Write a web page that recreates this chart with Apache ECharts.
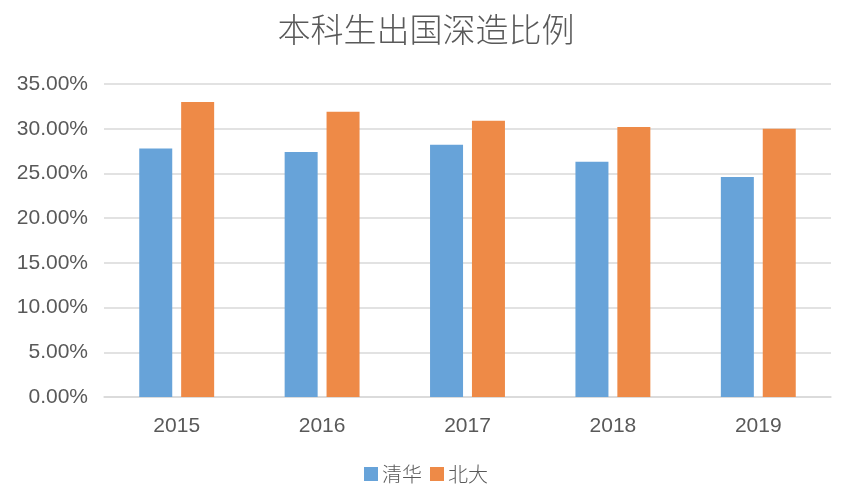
<!DOCTYPE html>
<html><head><meta charset="utf-8">
<script src="https://cdn.jsdelivr.net/npm/echarts@6/dist/echarts.min.js"></script>
<style>html,body{margin:0;padding:0;background:#fff}#c{width:852px;height:502px}</style>
</head><body><div id="c"></div>
<script>
const categories = ['2015', '2016', '2017', '2018', '2019'];
const tsinghua = [27.8, 27.4, 28.2, 26.3, 24.6];
const pku = [33.0, 31.9, 30.9, 30.2, 30.0];
const seriesNames = ['清华', '北大'];

const chart = echarts.init(document.getElementById('c'));
chart.setOption({
  animation: false,
  backgroundColor: '#fff',
  title: {
    text: '本科生出国深造比例', left: 'center', top: 8,
    textStyle: { fontSize: 33, fontWeight: 300, color: '#595959', fontFamily: 'Noto Sans CJK SC' }
  },
  legend: {
    bottom: 13, left: 'center', itemWidth: 14, itemHeight: 14, itemGap: 8,
    icon: 'rect',
    textStyle: { fontSize: 20, fontWeight: 300, color: '#595959', fontFamily: 'Noto Sans CJK SC', padding: [0, 0, 0, -1] },
    data: seriesNames
  },
  grid: { left: 104, right: 21, top: 84, bottom: 105, containLabel: false },
  xAxis: {
    type: 'category', data: categories,
    axisLine: { lineStyle: { color: '#d9d9d9', width: 1.5 } },
    axisTick: { show: false },
    axisLabel: { fontSize: 21, color: '#595959', margin: 19, fontFamily: 'Liberation Sans' }
  },
  yAxis: {
    type: 'value', min: 0, max: 35, interval: 5,
    axisLine: { show: false }, axisTick: { show: false },
    splitLine: { lineStyle: { color: '#d9d9d9', width: 1.5 } },
    axisLabel: { fontSize: 21, color: '#595959', margin: 16, fontFamily: 'Liberation Sans',
      formatter: v => v.toFixed(2) + '%' }
  },
  series: [
    { name: seriesNames[0], type: 'bar', data: tsinghua, barWidth: 33, barGap: '27%',
      itemStyle: { color: '#67a3d9' } },
    { name: seriesNames[1], type: 'bar', data: pku, barWidth: 33,
      itemStyle: { color: '#ee8a47' } }
  ]
});
</script></body></html>
